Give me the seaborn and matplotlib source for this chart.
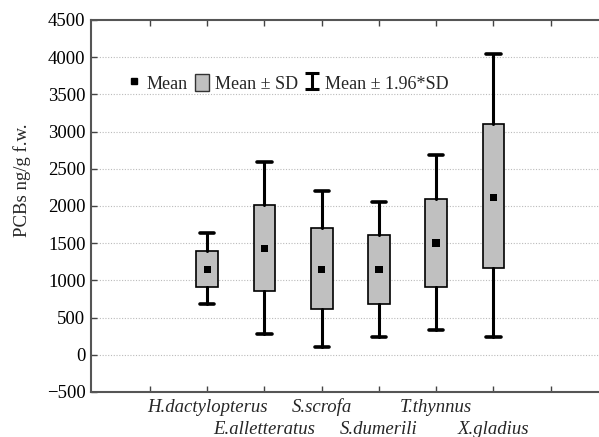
import numpy as np
import pandas as pd
import matplotlib
matplotlib.use("Agg")
import matplotlib.pyplot as plt
import seaborn as sns
from matplotlib.lines import Line2D
from matplotlib.patches import Patch
from matplotlib.path import Path

species = ["H.dactylopterus", "E.alletteratus", "S.scrofa", "S.dumerili", "T.thynnus", "X.gladius"]
mean_vals = [1150, 1430, 1150, 1150, 1505, 2110]
sd_low = [910, 855, 620, 685, 910, 1160]
sd_high = [1400, 2015, 1700, 1615, 2100, 3100]
ci_low = [685, 285, 100, 235, 335, 235]
ci_high = [1635, 2590, 2205, 2060, 2685, 4040]
yticks = [-500, 0, 500, 1000, 1500, 2000, 2500, 3000, 3500, 4000, 4500]

sns.set_style("white")
plt.rcParams['font.family'] = ['Liberation Serif', 'DejaVu Serif']
plt.rcParams['mathtext.fontset'] = 'stix'

fig = plt.figure(figsize=(5.99, 4.37), dpi=100)
ax = fig.add_axes([91/599, 1-392/437, 1-91/599 + 0.01, (392-20)/437])

pos = np.arange(1, len(species) + 1)
df = pd.DataFrame({"pos": pos, "mean": mean_vals})

stats = []
for i in range(len(species)):
    stats.append(dict(med=mean_vals[i], q1=sd_low[i], q3=sd_high[i],
                      whislo=ci_low[i], whishi=ci_high[i], fliers=[], label=species[i]))
ax.bxp(stats, positions=pos, widths=0.38, patch_artist=True, showfliers=False,
       boxprops=dict(facecolor='#c0c0c0', edgecolor='black', linewidth=1.2),
       whiskerprops=dict(color='black', linewidth=2.2),
       capprops=dict(color='black', linewidth=2.6),
       medianprops=dict(linewidth=0), capwidths=0.25, zorder=3)

sns.scatterplot(data=df, x="pos", y="mean", marker='s', color='black', s=28,
                edgecolor='none', ax=ax, zorder=5, legend=False)

ax.set_ylim(-500, 4500)
ax.set_xlim(-1.03, 7.95)
ax.set_yticks(yticks)
ax.set_yticklabels([("\u2212" + str(-t)) if t < 0 else str(t) for t in yticks], fontsize=13.5)
ax.set_xticks(np.arange(0, 8))
ax.set_xticklabels([""] * 8)
ax.set_xlabel("")
for i, s in enumerate(species):
    off = -15 if i % 2 == 0 else -37.5
    ax.annotate(s, xy=(pos[i], 0), xycoords=('data', 'axes fraction'),
                xytext=(0, off * 0.72), textcoords='offset points',
                ha='center', va='center', fontsize=13.5, style='italic')

ax.set_ylabel("PCBs ng/g f.w.", fontsize=13.5)
ax.yaxis.set_label_coords(-0.117, 0.57)

for t in [0, 500, 1000, 1500, 2000, 2500, 3000, 3500, 4000]:
    ax.axhline(t, color='#bbbbbb', linestyle=(0, (1, 1.5)), linewidth=0.8, zorder=0)

ax.tick_params(axis='x', direction='in', length=4, width=1, top=True, bottom=True, pad=6, colors='#444444', labelcolor='black')
ax.tick_params(axis='y', direction='in', length=4, width=1, left=True, pad=4, colors='#444444', labelcolor='black')
for sp in ['left', 'bottom', 'top']:
    ax.spines[sp].set_color('#555555')
    ax.spines[sp].set_linewidth(1.5)
ax.spines['right'].set_visible(False)

ibeam = Path([(-0.9, -1), (0.9, -1), (0, -1), (0, 1), (-0.9, 1), (0.9, 1)],
             [Path.MOVETO, Path.LINETO, Path.MOVETO, Path.LINETO, Path.MOVETO, Path.LINETO])
handles = [
    Line2D([], [], marker='s', color='black', linestyle='none', markersize=4.5),
    Patch(facecolor='#c0c0c0', edgecolor='#333333', linewidth=1.0),
    Line2D([], [], marker=ibeam, color='black', linestyle='none', markersize=11, markeredgewidth=2.2),
]
leg = ax.legend(handles, ["Mean", "Mean \u00b1 SD", "Mean \u00b1 1.96*SD"], ncol=3,
                loc='upper left', bbox_to_anchor=(0.055, 0.875), frameon=False,
                fontsize=13, handlelength=0.8, handleheight=1.1, handletextpad=0.3,
                columnspacing=0.4, borderaxespad=0)

fig.savefig("out.png", dpi=100)
